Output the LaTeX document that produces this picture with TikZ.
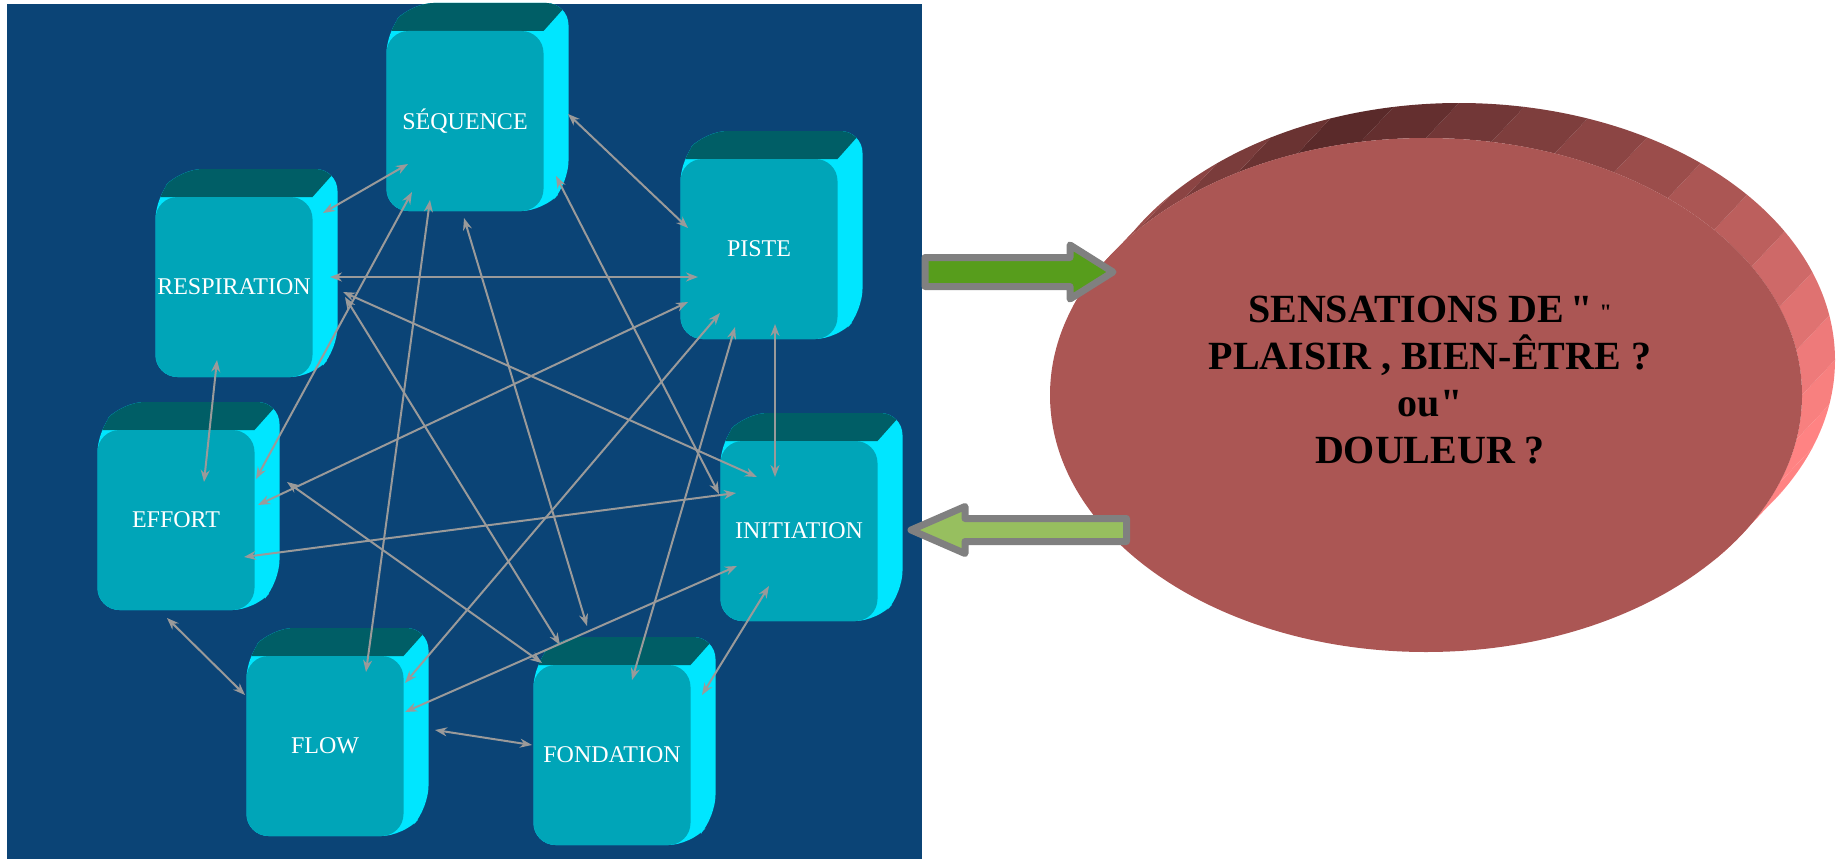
\documentclass[tikz,border=0pt]{standalone}
\usepackage{fontspec}
\setmainfont{Liberation Serif}[Ligatures=TeXOff]
\usepackage{xcolor}
\usepackage{tikz}
\usetikzlibrary{calc}
\usetikzlibrary{arrows.meta}

\definecolor{panelblue}{HTML}{0B4476}
\definecolor{faceteal}{HTML}{00A5B8}
\definecolor{topteal}{HTML}{005E66}
\definecolor{sidecyan}{HTML}{00E6FF}
\definecolor{linkgray}{HTML}{9A9A9A}
\definecolor{ellred}{HTML}{AB5654}
\definecolor{elldark}{HTML}{5A2A2A}
\definecolor{ellpink}{HTML}{FF8383}
\definecolor{greendark}{HTML}{579D1C}
\definecolor{greenlight}{HTML}{97BF5F}
\definecolor{bordergray}{HTML}{808080}
\pgfdeclarehorizontalshading{topshade}{100bp}{color(0bp)=(topteal); color(76bp)=(topteal); color(94bp)=(sidecyan); color(100bp)=(sidecyan)}

\begin{document}
\begin{tikzpicture}[x=1pt, y=-1pt, >={Stealth[length=12pt,width=9pt]}]
  \tikzstyle{face}=[fill=faceteal, rounded corners=22pt, minimum width=157pt, minimum height=180pt, inner sep=0pt, text=white, font=\fontsize{24}{24}\selectfont] % front of a cube
  \tikzstyle{link}=[<->, draw=linkgray, line width=2pt] % thin grey links
  \tikzstyle{block}=[draw=bordergray, line width=7pt, line join=round] % big green arrows
  \useasboundingbox (0,0) rectangle (1836,859);
  \fill[panelblue] (7,4) rectangle (922,859); % blue panel

  % the seven cubes: back part clipped, then the front face
  \foreach \n/\x/\y/\t in {seq/465/121/SÉQUENCE, pis/759/249/PISTE, res/234/287/RESPIRATION, eff/176/520/EFFORT, ini/799/531/INITIATION, flo/325/746/FLOW, fon/612/755/FONDATION}{
    \begin{scope}
      \clip[rounded corners=22pt] (\x-78.5,\y+90) -- (\x+78.5,\y+90) -- (\x+103.5,\y+62) -- (\x+103.5,\y-118) -- (\x-53.5,\y-118) -- (\x-78.5,\y-90) -- cycle;
      \fill[sidecyan] (\x-80,\y-120) rectangle (\x+105,\y+92);
      \shade[shading=topshade] (\x-78.5,\y-90) -- (\x-53.5,\y-118) -- (\x+103.5,\y-118) -- (\x+78.5,\y-90) -- cycle;
    \end{scope}
    \node[face] (\n) at (\x,\y) {\t};
  }

  % links between the cubes
  \foreach \p/\px/\py/\q/\qx/\qy in {seq/-57/43/res/89/-74, seq/103/-7/pis/-71/-21, res/96/-10/pis/-61/28, res/-17/73/eff/28/-38,
      pis/16/75/ini/-24/-54, eff/-9/98/flo/-80/-51, flo/110/-16/fon/-80/-10, fon/90/-60/ini/-30/55,
      seq/-53/71/eff/80/-41, seq/-35/79/flo/41/-74, seq/-1/97/fon/-25/-129, seq/91/55/ini/-80/-37,
      res/109/5/ini/-42/-54, res/111/10/fon/-52/-110, eff/82/-15/pis/-71/53, eff/68/37/ini/-63/-38,
      eff/111/-38/fon/-70/-92, flo/80/-63/pis/-39/64, flo/80/-34/ini/-62/35, fon/20/-75/pis/-24/78}
    \draw[link] ([shift={(\px,\py)}]\p.center) -- ([shift={(\qx,\qy)}]\q.center);

  % red disc with its thickness
  \coordinate (ef) at (1426,395);
  \coordinate (eb) at (1459,360);
  \foreach \ang/\col [evaluate=\ang as \ango using \ang+10] in {-40/ellpink, -30/ellpink, -20/ellpink, -10/ellpink!92!ellred,
      0/ellpink!80!ellred, 10/ellpink!62!ellred, 20/ellpink!42!ellred, 30/ellpink!20!ellred, 40/ellred,
      50/ellred!80!elldark, 60/ellred!62!elldark, 70/ellred!45!elldark, 80/ellred!30!elldark, 90/ellred!12!elldark,
      100/elldark, 110/ellred!20!elldark, 120/ellred!40!elldark, 130/ellred!60!elldark, 140/ellred!80!elldark, 150/ellred}
    \fill[\col] ($(ef)+(\ang:376pt and 257pt)$) arc[start angle=\ang, end angle=\ango, x radius=376pt, y radius=257pt]
      -- ($(eb)+(\ango:376pt and 257pt)$) arc[start angle=\ango, end angle=\ang, x radius=376pt, y radius=257pt] -- cycle;
  \fill[ellred] (ef) ellipse[x radius=376pt, y radius=257pt];
  \node[font=\fontsize{40}{47}\selectfont\bfseries, align=center] (sens) at (1430,380)
    {SENSATIONS DE\,"\,\raisebox{3pt}{\fontsize{22}{22}\selectfont "}\\PLAISIR , BIEN-ÊTRE ?\\ou"\\DOULEUR ?};

  % arrows between panel and disc
  \coordinate (out) at (925,272);
  \draw[block, fill=greendark] (out) ++(0,-14.5) -- ++(145,0) -- ++(0,-12.5) -- ++(43,27) -- ++(-43,27) -- ++(0,-12.5) -- ++(-145,0) -- cycle;
  \coordinate (back) at (1126.5,530);
  \draw[block, fill=greenlight] (back) ++(0,-11.5) -- ++(-161.5,0) -- ++(0,-12) -- ++(-54,23.5) -- ++(54,23.5) -- ++(0,-12) -- ++(161.5,0) -- cycle;
\end{tikzpicture}
\end{document}
